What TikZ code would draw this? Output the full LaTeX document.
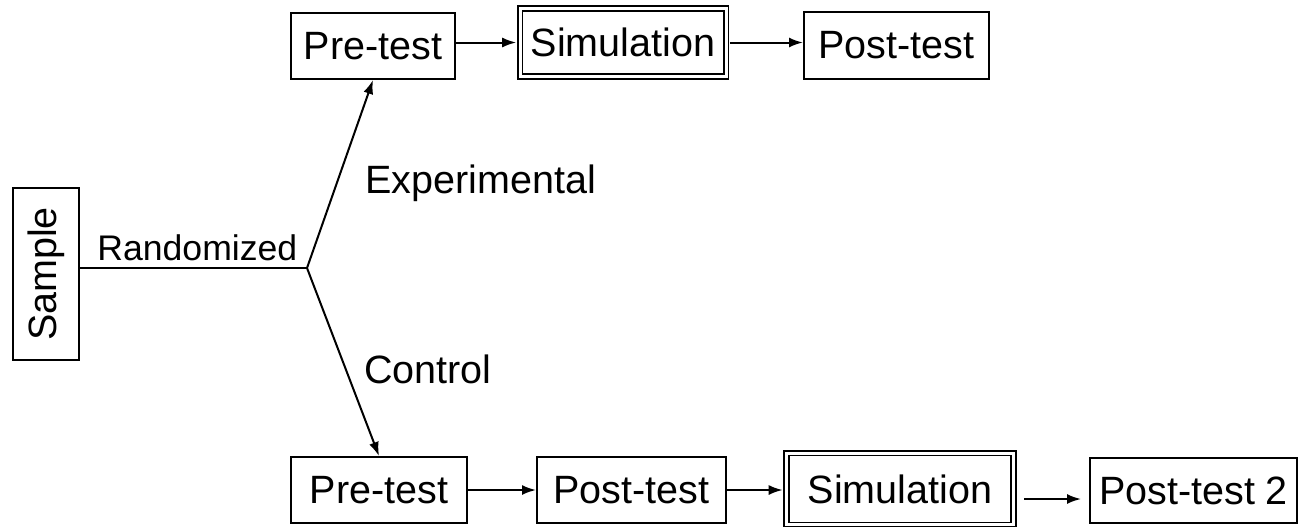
\documentclass[tikz,border=0pt]{standalone}
\usepackage{fontspec}
\setmainfont{Liberation Sans}
\usetikzlibrary{arrows.meta}
\begin{document}
\begin{tikzpicture}[x=0.5pt,y=-0.5pt,
  box/.style={draw, line width=1pt, inner sep=0pt, font=\fontsize{19.75}{22}\selectfont},
  dbox/.style={box, double, double distance=1.5pt, line width=0.8pt},
  lbl/.style={anchor=base west, inner sep=0pt, font=\fontsize{19.75}{22}\selectfont},
  arr/.style={line width=1pt, -{Latex[length=7pt,width=5pt]}}
]
\useasboundingbox (0,0) rectangle (1309,526);
\node[box, minimum width=33pt, minimum height=86pt] (sample) at (46,274) {\rotatebox{90}{Sample}};
\node[box, minimum width=82pt, minimum height=33pt] (pre1) at (373,46) {Pre-test};
\node[dbox, minimum width=103pt, minimum height=34pt] (sim1) at (623,42.5) {Simulation};
\node[box, minimum width=92.5pt, minimum height=33.5pt] (post1) at (896.5,45.5) {Post-test};
\node[box, minimum width=88pt, minimum height=33pt] (pre2) at (379,490) {Pre-test};
\node[box, minimum width=94.5pt, minimum height=33pt] (post2a) at (631.5,490) {Post-test};
\node[dbox, minimum width=113.5pt, minimum height=35.75pt] (sim2) at (900,489) {Simulation};
\node[box, minimum width=103.5pt, minimum height=32.5pt] (post2b) at (1193.5,490.5) {Post-test 2};
\coordinate (br) at (307,268);
\draw[line width=1pt] (sample.east |- br) -- (br);
\draw[arr] (br) -- (pre1.south);
\draw[arr] (br) -- (pre2.north);
\draw[arr, shorten >=1.5pt] (pre1.east |- sim1.west) -- (sim1.west);
\draw[arr, shorten <=1.5pt] (sim1.east) -- (sim1.east -| post1.west);
\draw[arr] (pre2.east) -- (post2a.west);
\draw[arr, shorten >=1.5pt] (post2a.east) -- (post2a.east -| sim2.west);
\coordinate (s2o) at ([yshift=-5pt]sim2.east);
\draw[arr, shorten <=5pt, shorten >=4pt] (s2o) -- (s2o -| post2b.west);
\node[lbl, font=\fontsize{17.8}{20}\selectfont] (rand) at (97,260) {Randomized};
\node[lbl] (exp) at (365,193) {Experimental};
\node[lbl] (ctl) at (364,383) {Control};
\end{tikzpicture}
\end{document}
